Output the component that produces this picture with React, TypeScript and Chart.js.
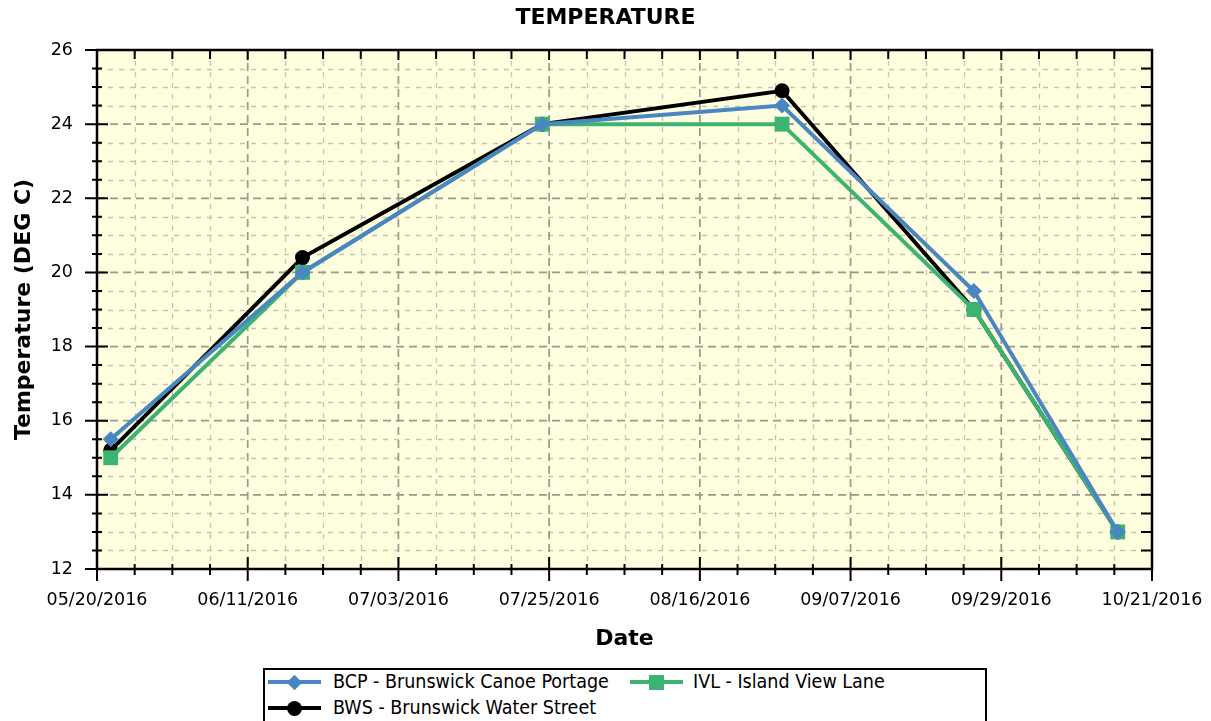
import React, { useEffect, useRef } from 'react';
import { Chart, registerables } from 'chart.js';

Chart.register(...registerables);

// ---- Data ----
const sampleDates = ['2016-05-22', '2016-06-19', '2016-07-24', '2016-08-28', '2016-09-25', '2016-10-16'];
const bcpValues = [15.5, 20.0, 24.0, 24.5, 19.5, 13.0];
const ivlValues = [15.0, 20.0, 24.0, 24.0, 19.0, 13.0];
const bwsValues = [15.2, 20.4, 24.0, 24.9, 19.0, 13.0];
const xTickDates = ['2016-05-20', '2016-06-11', '2016-07-03', '2016-07-25', '2016-08-16', '2016-09-07', '2016-09-29', '2016-10-21'];
const yTickValues = [12, 14, 16, 18, 20, 22, 24, 26];
const seriesNames = ['BCP - Brunswick Canoe Portage', 'IVL - Island View Lane', 'BWS - Brunswick Water Street'];
const seriesColors = ['#4a87c2', '#3cb371', '#000000'];

const toMs = (s: string) => {
  const [y, m, d] = s.split('-').map(Number);
  return Date.UTC(y, m - 1, d);
};
const fmtDate = (v: number) => {
  const d = new Date(v);
  const mm = String(d.getUTCMonth() + 1).padStart(2, '0');
  const dd = String(d.getUTCDate()).padStart(2, '0');
  return `${mm}/${dd}/${d.getUTCFullYear()}`;
};

const xTickValues = xTickDates.map(toMs);
const toPoints = (vals: number[]) => sampleDates.map((d, i) => ({ x: toMs(d), y: vals[i] }));

const TICK_FONT = { family: 'DejaVu Sans', size: 17.5 };
const TITLE_FONT = { family: 'DejaVu Sans', size: 22, weight: 'bold' as const };

const framePlugin = {
  id: 'frameGrid',
  beforeDatasetsDraw(chart: any) {
    const { ctx, chartArea } = chart;
    const { left, right, top, bottom } = chartArea;
    const xs = chart.scales.x;
    const ys = chart.scales.y;
    ctx.save();
    ctx.fillStyle = '#FFFFE0';
    ctx.fillRect(left, top, right - left, bottom - top);

    const xMinor: number[] = [];
    for (let i = 0; i < xTickValues.length - 1; i++) {
      const a = xTickValues[i], b = xTickValues[i + 1];
      for (let k = 1; k < 4; k++) xMinor.push(a + ((b - a) * k) / 4);
    }
    const yMinor: number[] = [];
    for (let i = 0; i < yTickValues.length - 1; i++) {
      const a = yTickValues[i], b = yTickValues[i + 1];
      for (let k = 1; k < 4; k++) yMinor.push(a + ((b - a) * k) / 4);
    }

    // minor grid
    ctx.strokeStyle = '#c6c3ae';
    ctx.lineWidth = 1.3;
    ctx.setLineDash([5, 6]);
    ctx.beginPath();
    xMinor.forEach((v) => {
      const px = Math.round(xs.getPixelForValue(v)) + 0.5;
      ctx.moveTo(px, top);
      ctx.lineTo(px, bottom);
    });
    yMinor.forEach((v) => {
      const py = Math.round(ys.getPixelForValue(v)) + 0.5;
      ctx.moveTo(left, py);
      ctx.lineTo(right, py);
    });
    ctx.stroke();

    // major grid
    ctx.strokeStyle = '#9c988e';
    ctx.lineWidth = 1.7;
    ctx.setLineDash([8, 5]);
    ctx.beginPath();
    xTickValues.forEach((v) => {
      const px = xs.getPixelForValue(v);
      ctx.moveTo(px, top);
      ctx.lineTo(px, bottom);
    });
    yTickValues.forEach((v) => {
      const py = ys.getPixelForValue(v);
      ctx.moveTo(left, py);
      ctx.lineTo(right, py);
    });
    ctx.stroke();
    ctx.setLineDash([]);

    // frame
    ctx.strokeStyle = '#000';
    ctx.lineWidth = 2.5;
    ctx.strokeRect(left, top, right - left, bottom - top);

    // ticks
    ctx.lineWidth = 2;
    ctx.beginPath();
    yTickValues.forEach((v) => {
      const py = ys.getPixelForValue(v);
      ctx.moveTo(left - 12, py); ctx.lineTo(left + 11, py);
      ctx.moveTo(right - 11, py); ctx.lineTo(right, py);
    });
    yMinor.forEach((v) => {
      const py = ys.getPixelForValue(v);
      ctx.moveTo(left - 5, py); ctx.lineTo(left + 5, py);
      ctx.moveTo(right - 11, py); ctx.lineTo(right, py);
    });
    xTickValues.forEach((v) => {
      const px = xs.getPixelForValue(v);
      ctx.moveTo(px, bottom - 12); ctx.lineTo(px, bottom + 12);
      ctx.moveTo(px, top); ctx.lineTo(px, top + 10);
    });
    xMinor.forEach((v) => {
      const px = xs.getPixelForValue(v);
      ctx.moveTo(px, bottom - 5); ctx.lineTo(px, bottom + 6);
      ctx.moveTo(px, top); ctx.lineTo(px, top + 9);
    });
    ctx.stroke();
    ctx.restore();
  },
};

function LegendSample({ color, shape }: { color: string; shape: string }) {
  const marker: React.CSSProperties = { position: 'absolute', background: color };
  if (shape === 'diamond') Object.assign(marker, { width: 11, height: 11, left: 20.5, top: -5.5, transform: 'rotate(45deg)' });
  if (shape === 'square') Object.assign(marker, { width: 15, height: 15, left: 19, top: -7.5 });
  if (shape === 'circle') Object.assign(marker, { width: 15, height: 15, left: 19, top: -7.5, borderRadius: '50%' });
  return (
    <div style={{ position: 'absolute', left: 0, top: 0, width: 53, height: 0 }}>
      <div style={{ position: 'absolute', left: 0, top: -2, width: 53, height: 4, background: color }} />
      <div style={marker} />
    </div>
  );
}

export default function App() {
  const canvasRef = useRef<HTMLCanvasElement | null>(null);

  useEffect(() => {
    if (!canvasRef.current) return;
    const mk = (i: number, vals: number[], style: string, radius: number) => ({
      label: seriesNames[i],
      data: toPoints(vals),
      borderColor: seriesColors[i],
      backgroundColor: seriesColors[i],
      borderWidth: 4,
      pointStyle: style,
      pointRadius: radius,
      pointBorderWidth: 0,
      pointBackgroundColor: seriesColors[i],
      tension: 0,
      fill: false,
    });
    const chart = new Chart(canvasRef.current, {
      type: 'line',
      data: {
        datasets: [
          mk(0, bcpValues, 'rectRot', 8),
          mk(1, ivlValues, 'rect', 10.5),
          mk(2, bwsValues, 'circle', 7.5),
        ] as any,
      },
      plugins: [framePlugin],
      options: {
        animation: false,
        responsive: false,
        maintainAspectRatio: false,
        layout: { padding: { left: 0, right: 0, top: 0, bottom: 69 } },
        plugins: {
          legend: { display: false },
          tooltip: { enabled: false },
          title: {
            display: true,
            text: 'TEMPERATURE',
            color: '#000',
            font: TITLE_FONT,
            padding: { top: 5, bottom: 18.6 },
          },
        },
        scales: {
          x: {
            type: 'linear',
            position: 'bottom',
            min: xTickValues[0],
            max: xTickValues[xTickValues.length - 1],
            afterBuildTicks: (s: any) => {
              s.ticks = xTickValues.map((v) => ({ value: v }));
            },
            afterFit: (s: any) => {
              s.height = 83;
              s.paddingLeft = 0;
              s.paddingRight = 0;
            },
            ticks: {
              callback: (v: any) => fmtDate(Number(v)),
              font: TICK_FONT,
              color: '#000',
              padding: 21,
              maxRotation: 0,
              autoSkip: false,
            },
            grid: { display: false, drawTicks: false },
            border: { display: false },
            title: { display: true, text: 'Date', color: '#000', font: TITLE_FONT, padding: { top: 0, bottom: 0 } },
          },
          y: {
            type: 'linear',
            position: 'left',
            min: yTickValues[0],
            max: yTickValues[yTickValues.length - 1],
            afterBuildTicks: (s: any) => {
              s.ticks = yTickValues.map((v) => ({ value: v }));
            },
            afterFit: (s: any) => {
              s.width = 97;
            },
            ticks: { font: TICK_FONT, color: '#000', padding: 24 },
            grid: { display: false, drawTicks: false },
            border: { display: false },
            title: {
              display: true,
              text: 'Temperature (DEG C)',
              color: '#000',
              font: TITLE_FONT,
              padding: { top: 11, bottom: 0 },
            },
          },
          y2: {
            type: 'linear',
            position: 'right',
            display: true,
            ticks: { display: false },
            grid: { display: false, drawTicks: false },
            border: { display: false },
            afterFit: (s: any) => {
              s.width = 59;
            },
          },
        },
      } as any,
    });
    return () => chart.destroy();
  }, []);

  const legendFont = '"DejaVu Sans Condensed", "DejaVu Sans", sans-serif';
  const items = [
    { i: 0, shape: 'diamond', left: 3, top: 12, textLeft: 68 },
    { i: 1, shape: 'square', left: 365, top: 12, textLeft: 428 },
    { i: 2, shape: 'circle', left: 3, top: 38, textLeft: 68 },
  ];

  return (
    <div style={{ position: 'fixed', left: 0, top: 0, width: 1211, height: 721, background: '#fff', overflow: 'hidden' }}>
      <canvas ref={canvasRef} width={1211} height={721} style={{ position: 'absolute', left: 0, top: 0 }} />
      <div
        style={{
          position: 'absolute',
          left: 263,
          top: 668,
          width: 720,
          height: 70,
          border: '2px solid #000',
          background: '#fff',
          fontFamily: legendFont,
          fontSize: 19.5,
          color: '#000',
        }}
      >
        {items.map((it) => (
          <React.Fragment key={it.i}>
            <div style={{ position: 'absolute', left: it.left, top: it.top }}>
              <LegendSample color={seriesColors[it.i]} shape={it.shape} />
            </div>
            <div style={{ position: 'absolute', left: it.textLeft, top: it.top - 12, lineHeight: '24px', whiteSpace: 'nowrap' }}>
              {seriesNames[it.i]}
            </div>
          </React.Fragment>
        ))}
      </div>
    </div>
  );
}
